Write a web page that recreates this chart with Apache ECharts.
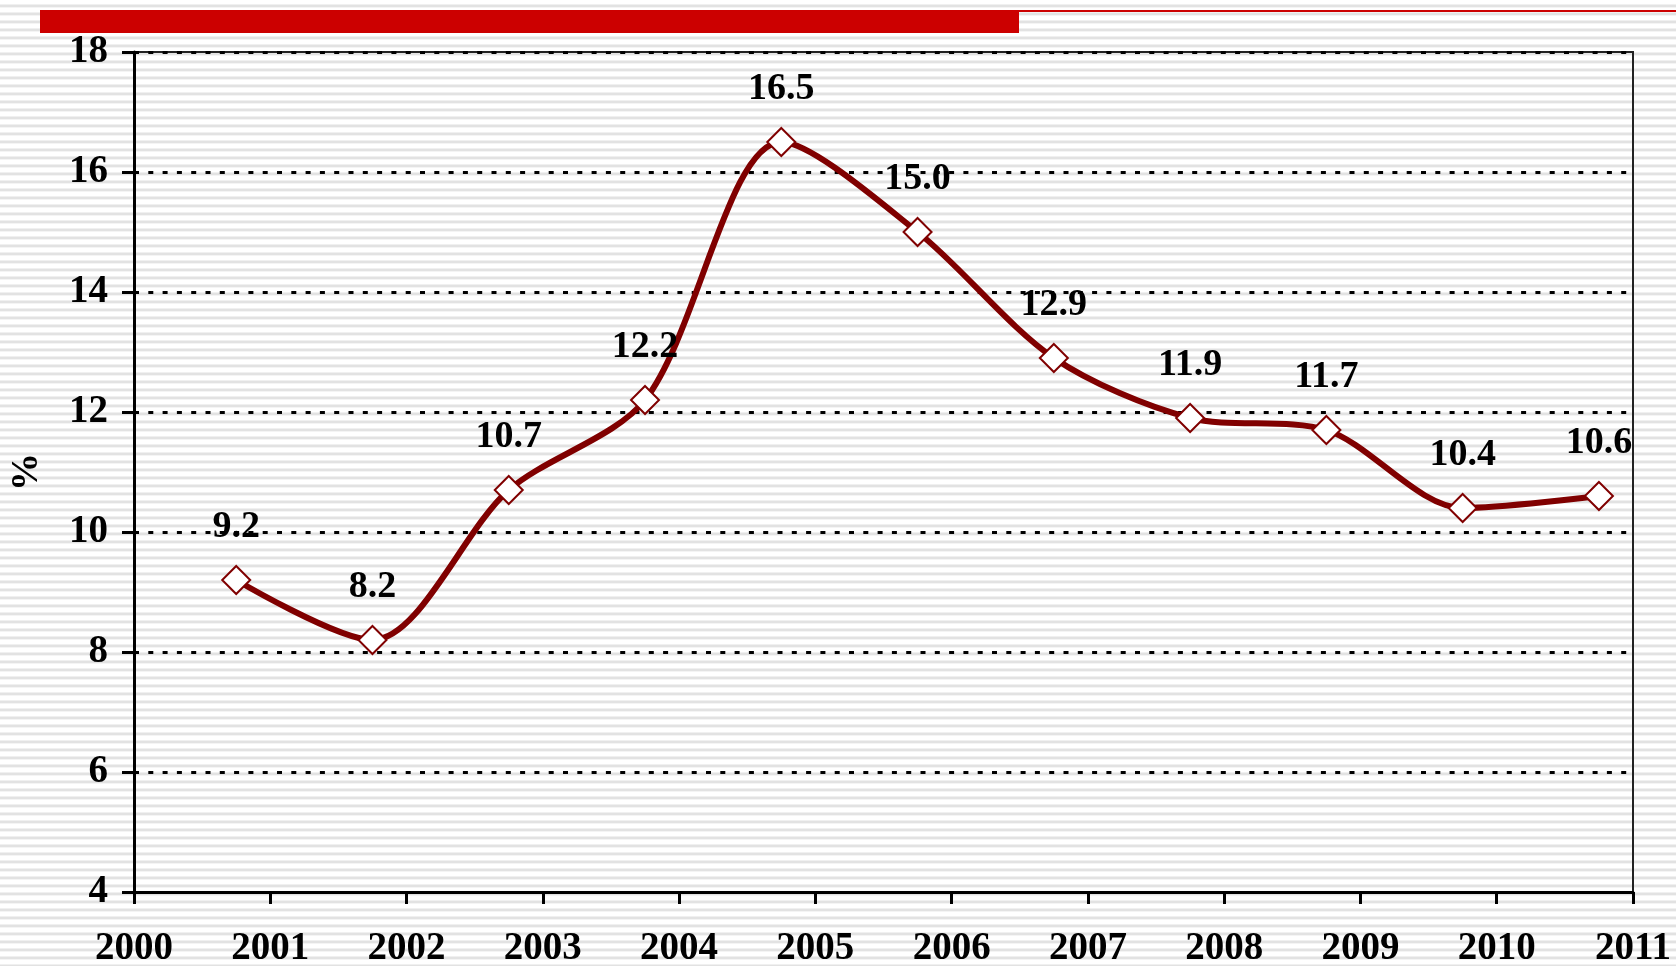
<!DOCTYPE html>
<html>
<head>
<meta charset="utf-8">
<script src="https://cdn.jsdelivr.net/npm/echarts@6/dist/echarts.min.js"></script>
<style>
html,body{margin:0;padding:0;width:1676px;height:966px;overflow:hidden;
background:repeating-linear-gradient(to bottom,#ffffff 0px,#ffffff 4px,#f0f0f0 4px,#f0f0f0 5px,#e2e2e2 5px,#e2e2e2 7px,#f4f4f4 7px,#f4f4f4 8px);}
#c{width:1676px;height:966px;}
</style>
</head>
<body>
<div id="c"></div>
<script>
var years = [2001, 2002, 2003, 2004, 2005, 2006, 2007, 2008, 2009, 2010, 2011];
var values = [9.2, 8.2, 10.7, 12.2, 16.5, 15.0, 12.9, 11.9, 11.7, 10.4, 10.6];
var yTicks = [4, 6, 8, 10, 12, 14, 16, 18];
var xTicks = ['2000','2001','2002','2003','2004','2005','2006','2007','2008','2009','2010','2011'];
var yName = '%';

var font = '"Liberation Serif", "Times New Roman", serif';
var data = years.map(function(y, i){ return [y - 0.25, values[i]]; });

var chart = echarts.init(document.getElementById('c'), null, {renderer:'canvas'});
chart.setOption({
  backgroundColor: 'transparent',
  animation: false,
  grid: {left:134, right:43, top:52, bottom:74, show:true, borderColor:'#222', borderWidth:2,
         backgroundColor:'transparent', containLabel:false, outerBoundsMode:'none'},
  graphic: [
    {type:'rect', shape:{x:40, y:10, width:979, height:23}, style:{fill:'#cc0000'}},
    {type:'rect', shape:{x:1019, y:10, width:657, height:2}, style:{fill:'#cc0000'}}
  ],
  xAxis: {
    type:'value', min:2000, max:2011, interval:1,
    axisLine:{show:true, onZero:false, lineStyle:{color:'#000', width:3}},
    axisTick:{show:true, inside:false, length:12, lineStyle:{color:'#000', width:3}},
    splitLine:{show:false},
    axisLabel:{margin:37, color:'#000', fontFamily:font, fontWeight:'bold', fontSize:39,
      formatter:function(v){ var i = Math.round(v) - 2000; return xTicks[i] || ''; }}
  },
  yAxis: {
    type:'value', min:4, max:18, interval:2,
    name: yName, nameLocation:'middle', nameGap:88, nameRotate:90,
    nameTextStyle:{color:'#000', fontFamily:font, fontWeight:'bold', fontSize:38},
    axisLine:{show:true, onZero:false, lineStyle:{color:'#000', width:3}},
    axisTick:{show:true, inside:false, length:12, lineStyle:{color:'#000', width:3}},
    splitLine:{show:true, lineStyle:{color:'#000', width:3, type:[5,9.3]}},
    axisLabel:{margin:26, color:'#000', fontFamily:font, fontWeight:'bold', fontSize:39,
      formatter:function(v){ return yTicks.indexOf(v) >= 0 ? String(v) : ''; }}
  },
  series: [{
    type:'line', data:data, smooth:0.3,
    lineStyle:{color:'#800000', width:6},
    symbol:'diamond', symbolSize:28,
    itemStyle:{color:'#ffffff', borderColor:'#800000', borderWidth:2},
    label:{show:true, position:'top', distance:19, color:'#000', fontFamily:font, fontWeight:'bold', fontSize:38,
      formatter:function(p){ return p.value[1].toFixed(1); }},
    z:5
  }]
});
</script>
</body>
</html>
